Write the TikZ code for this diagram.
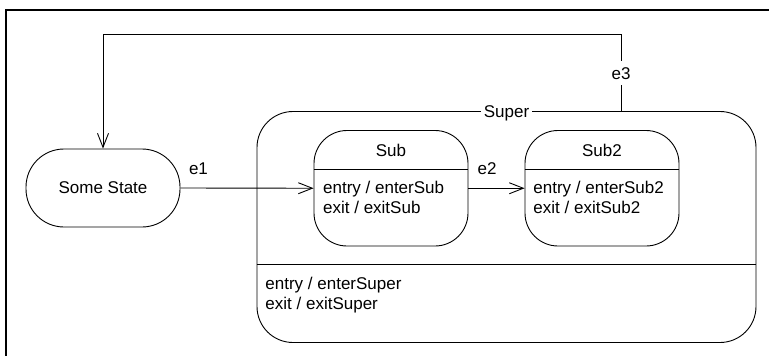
\documentclass[tikz,border=0pt]{standalone}
\usepackage{fontspec}
\setmainfont{Liberation Sans}
\usetikzlibrary{arrows.meta}
\begin{document}
\begin{tikzpicture}[x=1pt,y=-1pt,
  font=\fontsize{17}{20}\selectfont,
  line width=0.9pt,
  state/.style={draw, rectangle, inner sep=0pt},
  lbl/.style={anchor=base, inner sep=1pt},
  act/.style={anchor=base west, inner sep=0pt},
  tr/.style={-{Straight Barb[length=14pt,width=11pt,line width=0.9pt]}}]
\useasboundingbox (0,0) rectangle (769,356);
% frame
\draw[line width=2pt] (6,356) -- (6,10) -- (769,10);

% Some State
\node[state, rounded corners=38pt, minimum width=154pt, minimum height=78pt] (some) at (103,188) {};
\node[lbl] (somet) at (103,193.3) {Some State};

% Super
\node[state, rounded corners=36pt, minimum width=499pt, minimum height=231pt] (super) at (506.5,227) {};
\draw (super.west |- 0,264.5) -- (super.east |- 0,264.5);
\node[lbl, fill=white, inner xsep=3pt, inner ysep=2pt] (superl) at (506.5,117.3) {Super};
\node[act] (supa1) at (265,289.3) {entry / enterSuper};
\node[act] (supa2) at (265,309.3) {exit / exitSuper};

% Sub
\node[state, rounded corners=33pt, minimum width=154pt, minimum height=115.5pt] (sub) at (391,188.25) {};
\draw (sub.west |- 0,169) -- (sub.east |- 0,169);
\node[lbl] (subl) at (391,156.7) {Sub};
\node[act] (suba1) at (322.7,193.3) {entry / enterSub};
\node[act] (suba2) at (322.7,213.3) {exit / exitSub};

% Sub2
\node[state, rounded corners=33pt, minimum width=154pt, minimum height=115.5pt] (sub2) at (602,188.25) {};
\draw (sub2.west |- 0,169) -- (sub2.east |- 0,169);
\node[lbl] (sub2l) at (602,156.7) {Sub2};
\node[act] (sub2a1) at (533,193.3) {entry / enterSub2};
\node[act] (sub2a2) at (533,213.3) {exit / exitSub2};

% transitions
\draw[tr] (some.east) -- (sub.west);
\node[lbl] (e1) at (198.5,174) {e1};
\draw[tr] (sub.east) -- (sub2.west);
\node[lbl] (e2) at (487,174) {e2};

\coordinate (s3) at (super.north -| 621,0);
\coordinate (t1) at (621,34);
\coordinate (t2) at (some.north |- t1);
\draw[tr] (s3) -- (t1) -- (t2) -- (some.north);
\node[lbl, fill=white, inner xsep=2pt, inner ysep=6pt] (e3) at (621,79.3) {e3};
\end{tikzpicture}
\end{document}
